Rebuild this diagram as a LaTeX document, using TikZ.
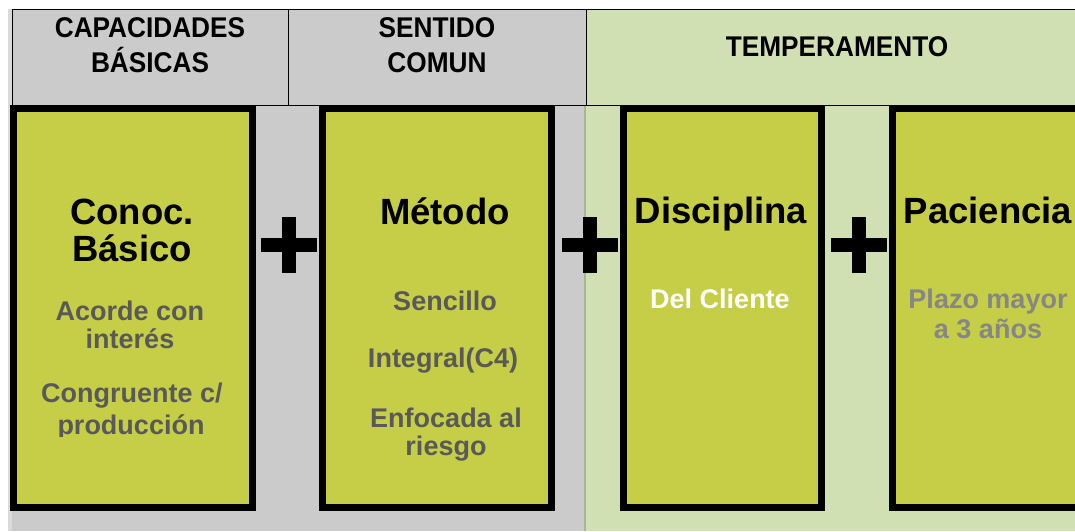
\documentclass[tikz,border=0pt]{standalone}
\usepackage{fontspec}
\setmainfont{Liberation Sans}
\newfontfamily\headfont{Liberation Sans}[FakeStretch=0.92]

\definecolor{cellgray}{HTML}{CBCBCB}
\definecolor{stripgray}{HTML}{DADADA}
\definecolor{cellgreen}{HTML}{D1E0B3}
\definecolor{boxyellow}{HTML}{C6CD47}
\definecolor{seamgreen}{HTML}{A9B29B}
\definecolor{subgray}{HTML}{595959}
\definecolor{lightsub}{HTML}{868686}

\tikzset{
    bigbox/.style={fill=boxyellow, draw=black, line width=7pt},
    headtext/.style={anchor=base, font={\headfont\fontsize{28.5}{30}\selectfont\bfseries}},
    titletext/.style={anchor=base, font={\fontsize{36.5}{37}\selectfont\bfseries}},
    subtext/.style={anchor=base, text=subgray, font={\fontsize{27}{28}\selectfont\bfseries}},
}

\begin{document}
\begin{tikzpicture}[x=1pt, y=-1pt]
    \useasboundingbox (0,0) rectangle (1075,531);
    \clip (0,0) rectangle (1075,531);

    % background cells
    \fill[stripgray] (8,9) rectangle (12,531);
    \fill[cellgray] (12,9) rectangle (586,531);
    \fill[cellgreen] (586,9) rectangle (1075,531);
    \draw[seamgreen, line width=2pt] (584.5,106) -- (584.5,531);

    % header grid
    \draw[line width=1pt] (12,9.5) -- (1075,9.5);
    \draw[line width=0.8pt]
        (12.5,9) -- (12.5,106)
        (288,9) -- (288,106)
        (586,9) -- (586,106);
    \draw[line width=1pt] (12,105.5) -- (1075,105.5);

    \node[headtext] (capHead) at (150,37) {CAPACIDADES};
    \node[headtext] (capHeadB) at (150,72) {BÁSICAS};
    \node[headtext] (senHead) at (437,37) {SENTIDO};
    \node[headtext] (senHeadB) at (437,72) {COMUN};
    \node[headtext] (temHead) at (837,56) {TEMPERAMENTO};

    % the four boxes
    \draw[bigbox] (13.5,108.5) rectangle (252.5,507.5);
    \draw[bigbox] (322.5,108.5) rectangle (551.5,507.5);
    \draw[bigbox] (623.5,108.5) rectangle (821.5,507.5);
    \draw[bigbox] (892.5,108.5) rectangle (1090,507.5);

    % plus signs
    \foreach \px in {288.5,589.5,859} {
        \fill (\px-28,237.5) rectangle (\px+28,251.5);
        \fill (\px-7,216.5) rectangle (\px+7,272.5);
    }

    % Conoc. Basico
    \node[titletext] (conocTitle) at (132,224) {Conoc.};
    \node[titletext] (conocTitleB) at (132,261) {Básico};
    \node[subtext] (conocSubA) at (130,320) {Acorde con};
    \node[subtext] (conocSubB) at (130,348) {interés};
    \node[subtext] (conocSubC) at (132,402) {Congruente c/};
    \begin{scope}
        \clip (17,405) rectangle (249,436);
        \node[subtext] (conocSubD) at (131,434) {producción};
    \end{scope}

    % Metodo
    \node[titletext] (metTitle) at (445,224) {Método};
    \node[subtext] (metSubA) at (445,310) {Sencillo};
    \node[subtext] (metSubB) at (443,367) {Integral(C4)};
    \node[subtext] (metSubC) at (446,427) {Enfocada al};
    \node[subtext] (metSubD) at (446,455) {riesgo};

    % Disciplina
    \node[titletext] (disTitle) at (721,223) {Disciplina};
    \node[subtext, text=white] (disSub) at (720,308) {Del Cliente};

    % Paciencia
    \node[titletext] (pacTitle) at (988,223) {Paciencia};
    \node[subtext, text=lightsub] (pacSubA) at (988,308) {Plazo mayor};
    \node[subtext, text=lightsub] (pacSubB) at (988,338) {a 3 años};
\end{tikzpicture}
\end{document}
